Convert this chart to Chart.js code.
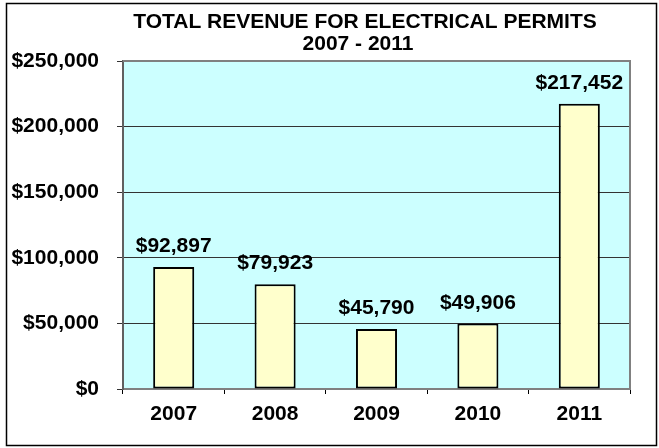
<!DOCTYPE html>
<html>
<head>
<meta charset="utf-8">
<script src="https://cdn.jsdelivr.net/npm/chart.js@4"></script>
<style>
  body { margin: 0; background: #fff; }
  #wrap { width: 659px; height: 448px; }
</style>
</head>
<body>
<div id="wrap"><canvas id="revenue-chart" width="659" height="448"></canvas></div>
<script>
// data
const years = ["2007", "2008", "2009", "2010", "2011"];
const revenue = [92897, 79923, 45790, 49906, 217452];
const yTicks = [0, 50000, 100000, 150000, 200000, 250000];
const titleLines = ["TOTAL REVENUE FOR ELECTRICAL PERMITS", "2007 - 2011"];

const FONT = "'Liberation Sans', Arial, sans-serif";
const money = v => "$" + v.toLocaleString("en-US");

// plot background, frame, title and outer border
const frame = {
  id: "frame",
  beforeDraw(chart) {
    const { ctx, chartArea: a } = chart;
    ctx.save();
    ctx.fillStyle = "#fff";
    ctx.fillRect(0, 0, chart.width, chart.height);
    ctx.fillStyle = "#CCFFFF";
    ctx.fillRect(a.left, a.top, a.right - a.left, a.bottom - a.top);
    ctx.restore();
  },
  afterDraw(chart) {
    const { ctx, chartArea: a } = chart;
    ctx.save();
    ctx.strokeStyle = "#808080";
    ctx.lineWidth = 2;
    ctx.beginPath();
    ctx.moveTo(a.left, a.top);
    ctx.lineTo(a.right, a.top);
    ctx.lineTo(a.right, a.bottom);
    ctx.stroke();

    // title (sits a bit right of the canvas centre in the original)
    ctx.fillStyle = "#000";
    ctx.font = "bold 21px " + FONT;
    ctx.textAlign = "center";
    ctx.textBaseline = "alphabetic";
    ctx.fillText(titleLines[0], 365, 28);
    ctx.fillText(titleLines[1], 358, 50);

    ctx.strokeStyle = "#000";
    ctx.lineWidth = 1.5;
    ctx.strokeRect(6.5, 3.5, 650, 442);
    ctx.restore();
  }
};

// value labels above each bar
const barLabels = {
  id: "barLabels",
  afterDatasetsDraw(chart) {
    const { ctx } = chart;
    const meta = chart.getDatasetMeta(0);
    ctx.save();
    ctx.fillStyle = "#000";
    ctx.font = "bold 21px " + FONT;
    ctx.textAlign = "center";
    ctx.textBaseline = "alphabetic";
    meta.data.forEach((bar, i) => {
      ctx.fillText(money(revenue[i]), bar.x, bar.y - 15);
    });
    ctx.restore();
  }
};

const ctx = document.getElementById("revenue-chart").getContext("2d");

const revenueChart = new Chart(ctx, {
  type: "bar",
  data: {
    labels: years,
    datasets: [
      {
        label: "Revenue",
        data: revenue,
        backgroundColor: "#FFFFCC",
        borderColor: "#000",
        borderWidth: 2,
        borderSkipped: false,
        barPercentage: 0.405,
        categoryPercentage: 1,
      },
    ],
  },
  options: {
    responsive: false,
    animation: false,
    devicePixelRatio: 1,
    layout: { padding: { left: 0, right: 29, top: 61, bottom: 0 } },
    plugins: {
      legend: { display: false },
      tooltip: { enabled: false },
      title: { display: false },
    },
    scales: {
      x: {
        grid: {
          drawOnChartArea: false,
          offset: true,
          color: "#000",
          tickLength: 5,
        },
        border: { color: "#808080", width: 2 },
        ticks: {
          color: "#000",
          padding: 8,
          font: { family: FONT, size: 21, weight: "bold" },
        },
        afterFit(scale) { scale.height = 59; },
      },
      y: {
        min: 0,
        max: 250000,
        afterBuildTicks(scale) {
          scale.ticks = yTicks.map(v => ({ value: v }));
        },
        grid: { color: "#333", lineWidth: 1, tickLength: 6 },
        border: { color: "#606060", width: 2 },
        ticks: {
          color: "#000",
          padding: 18,
          font: { family: FONT, size: 21, weight: "bold" },
          callback: v => money(v),
        },
        afterFit(scale) { scale.width = 123; },
      },
    },
  },
  plugins: [frame, barLabels],
});
</script>
</body>
</html>
